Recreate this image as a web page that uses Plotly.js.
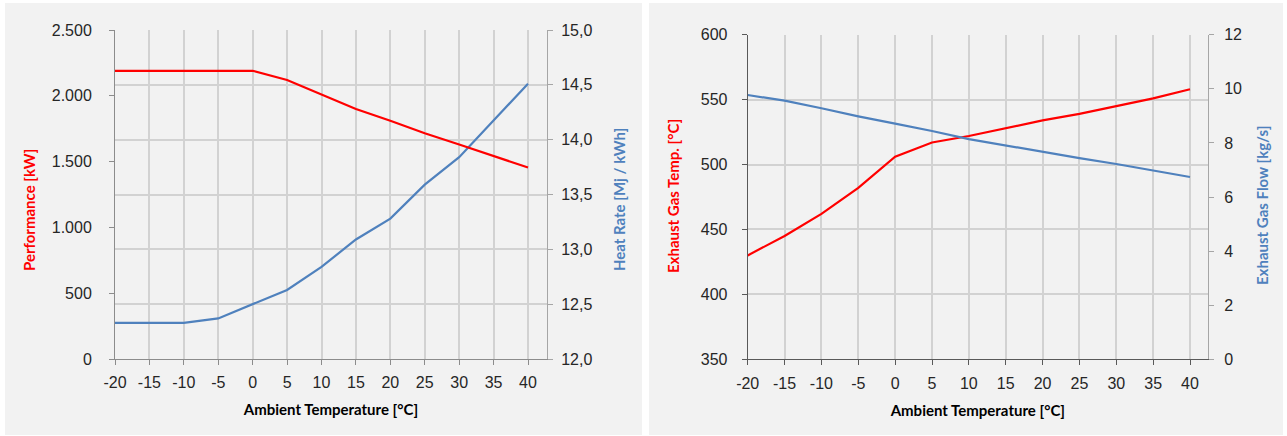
<!DOCTYPE html>
<html>
<head>
<meta charset="utf-8">
<script src="https://cdn.plot.ly/plotly-3.0.1.min.js"></script>
<style>html,body{margin:0;padding:0;background:#fff;}#chart{width:1287px;height:436px;}</style>
</head>
<body>
<div id="chart"></div>
<script>
const ambientTemp = [-20, -15, -10, -5, 0, 5, 10, 15, 20, 25, 30, 35, 40];
const ambientTickText = ['-20', '-15', '-10', '-5', '0', '5', '10', '15', '20', '25', '30', '35', '40'];
const performanceKW = [2190, 2190, 2190, 2190, 2190, 2120, 2010, 1900, 1810, 1715, 1630, 1545, 1455];
const heatRate = [12.33, 12.33, 12.33, 12.37, 12.50, 12.63, 12.84, 13.09, 13.28, 13.59, 13.84, 14.18, 14.51];
const exhaustTemp = [430, 445, 462, 482, 506, 517, 522, 528, 534, 539, 545, 551, 558];
const exhaustFlow = [9.77, 9.56, 9.28, 8.98, 8.71, 8.44, 8.14, 7.90, 7.67, 7.44, 7.22, 6.99, 6.74];

const RED = '#ff0000', BLUE = '#4f81bd';
const W = 1287, H = 436;
const px = v => v / W, py = v => 1 - v / H;

const tickFont = {family: '"Liberation Sans", Arial, sans-serif', size: 16, color: '#262626'};
const titleFont = c => ({family: 'Lato, sans-serif', size: 15, color: c, weight: 'bold'});
const GRID = '#d2d2d2';

const traces = [
  {x: ambientTemp, y: heatRate, xaxis: 'x', yaxis: 'y', mode: 'lines', line: {color: BLUE, width: 2.2}, name: 'Heat Rate'},
  {x: ambientTemp, y: performanceKW, xaxis: 'x', yaxis: 'y2', mode: 'lines', line: {color: RED, width: 2.2}, name: 'Performance'},
  {x: ambientTemp, y: exhaustFlow, xaxis: 'x2', yaxis: 'y4', mode: 'lines', line: {color: BLUE, width: 2.2}, name: 'Exhaust Gas Flow'},
  {x: ambientTemp, y: exhaustTemp, xaxis: 'x2', yaxis: 'y3', mode: 'lines', line: {color: RED, width: 2.2}, name: 'Exhaust Gas Temp.'}
];

const xCommon = {
  tickmode: 'array', tickvals: ambientTemp, ticktext: ambientTickText,
  ticks: 'outside', ticklen: 5, tickfont: tickFont,
  showgrid: true, gridcolor: GRID, gridwidth: 2, zeroline: false,
  showline: true, ticklabelstandoff: 4
};

const yTitle = (text, color, x, y) => ({
  text: text, xref: 'paper', yref: 'paper', x: px(x), y: py(y),
  xanchor: 'center', yanchor: 'middle', textangle: -90, showarrow: false,
  font: titleFont(color)
});

const layout = {
  width: W, height: H, autosize: false,
  margin: {l: 0, r: 0, t: 0, b: 0},
  paper_bgcolor: '#ffffff', plot_bgcolor: '#ffffff',
  showlegend: false,
  separators: ',.',
  shapes: [
    {type: 'rect', xref: 'paper', yref: 'paper', x0: px(5), x1: px(642), y0: py(435), y1: py(3), fillcolor: '#f2f2f2', line: {width: 0}, layer: 'below'},
    {type: 'rect', xref: 'paper', yref: 'paper', x0: px(649), x1: px(1283), y0: py(435), y1: py(3), fillcolor: '#f2f2f2', line: {width: 0}, layer: 'below'}
  ],
  annotations: [
    yTitle('Performance [kW]', RED, 29, 210),
    yTitle('Heat Rate [Mj / kWh]', BLUE, 619, 200),
    yTitle('Exhaust Gas Temp. [°C]', RED, 673, 196),
    yTitle('Exhaust Gas Flow [kg/s]', BLUE, 1262, 206)
  ],
  xaxis: Object.assign({}, xCommon, {
    domain: [px(115), px(547)], anchor: 'y', range: [-20, 42.76],
    linecolor: '#8c8c8c', tickcolor: '#8c8c8c',
    title: {text: 'Ambient Temperature [°C]', font: titleFont('#000000'), standoff: 14}
  }),
  yaxis: {
    domain: [py(359), py(30)], anchor: 'x', side: 'right', range: [12, 15], dtick: 0.5, tickformat: '.1f',
    ticks: 'outside', ticklen: 5, tickcolor: '#a6a6a6', tickfont: tickFont,
    showgrid: true, gridcolor: GRID, gridwidth: 2, zeroline: false,
    showline: true, linecolor: '#a6a6a6', ticklabelstandoff: 5
  },
  yaxis2: {
    overlaying: 'y', side: 'left', anchor: 'x', range: [0, 2500], dtick: 500, tickformat: ',',
    ticks: 'outside', ticklen: 5, tickcolor: '#8c8c8c', tickfont: tickFont,
    showgrid: false, zeroline: false, showline: true, linecolor: '#8c8c8c', ticklabelstandoff: 14
  },
  xaxis2: Object.assign({}, xCommon, {
    domain: [px(747.7), px(1208)], anchor: 'y3', range: [-20, 42.44],
    linecolor: '#595959', tickcolor: '#595959',
    title: {text: 'Ambient Temperature [°C]', font: titleFont('#000000'), standoff: 14}
  }),
  yaxis3: {
    domain: [py(359.3), py(34.7)], anchor: 'x2', range: [350, 600], dtick: 50,
    ticks: 'outside', ticklen: 5, tickcolor: '#595959', tickfont: tickFont,
    showgrid: true, gridcolor: GRID, gridwidth: 2, zeroline: false,
    showline: true, linecolor: '#595959', ticklabelstandoff: 11
  },
  yaxis4: {
    overlaying: 'y3', side: 'right', anchor: 'x2', range: [0, 12], dtick: 2,
    ticks: 'outside', ticklen: 5, tickcolor: '#a6a6a6', tickfont: tickFont,
    showgrid: false, zeroline: false, showline: true, linecolor: '#a6a6a6', ticklabelstandoff: 7
  }
};

Plotly.newPlot('chart', traces, layout, {displayModeBar: false, staticPlot: true});
</script>
</body>
</html>
